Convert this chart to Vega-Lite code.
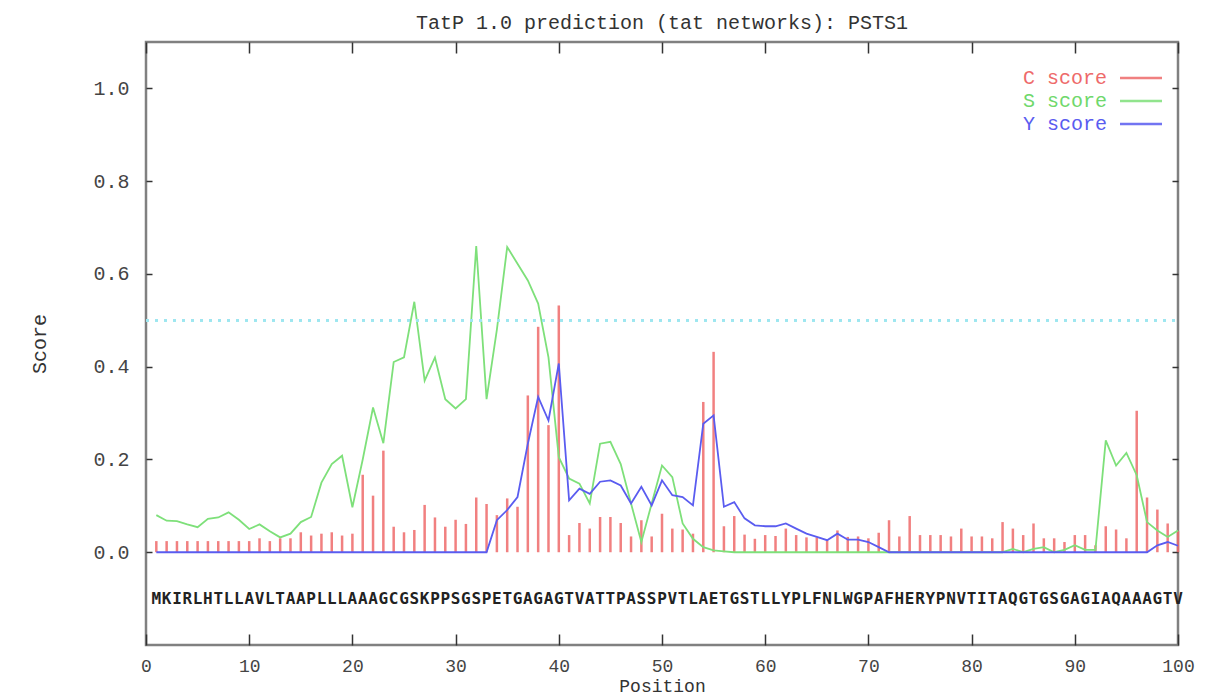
{
  "$schema": "https://vega.github.io/schema/vega-lite/v6.json",
  "width": 1032,
  "height": 603,
  "autosize": {"type": "none"},
  "padding": {"left": 146, "top": 42, "right": 35, "bottom": 55},
  "background": "white",
  "title": {"text": "TatP 1.0 prediction (tat networks): PSTS1", "font": "Liberation Mono", "fontSize": 20, "fontWeight": "normal", "color": "#333333", "offset": 8, "anchor": "middle"},
  "config": {
    "view": {"stroke": "#808080", "strokeWidth": 2.5},
    "font": "Liberation Mono"
  },
  "data": {"values": [
    {"pos":1,"aa":"M","C":0.024,"S":0.080,"Y":0},
    {"pos":2,"aa":"K","C":0.024,"S":0.068,"Y":0},
    {"pos":3,"aa":"I","C":0.024,"S":0.067,"Y":0},
    {"pos":4,"aa":"R","C":0.024,"S":0.060,"Y":0},
    {"pos":5,"aa":"L","C":0.024,"S":0.054,"Y":0},
    {"pos":6,"aa":"H","C":0.024,"S":0.072,"Y":0},
    {"pos":7,"aa":"T","C":0.024,"S":0.075,"Y":0},
    {"pos":8,"aa":"L","C":0.024,"S":0.086,"Y":0},
    {"pos":9,"aa":"L","C":0.024,"S":0.070,"Y":0},
    {"pos":10,"aa":"A","C":0.024,"S":0.050,"Y":0},
    {"pos":11,"aa":"V","C":0.030,"S":0.060,"Y":0},
    {"pos":12,"aa":"L","C":0.024,"S":0.045,"Y":0},
    {"pos":13,"aa":"T","C":0.030,"S":0.032,"Y":0},
    {"pos":14,"aa":"A","C":0.030,"S":0.040,"Y":0},
    {"pos":15,"aa":"A","C":0.043,"S":0.065,"Y":0},
    {"pos":16,"aa":"P","C":0.036,"S":0.076,"Y":0},
    {"pos":17,"aa":"L","C":0.040,"S":0.150,"Y":0},
    {"pos":18,"aa":"L","C":0.043,"S":0.190,"Y":0},
    {"pos":19,"aa":"L","C":0.036,"S":0.208,"Y":0},
    {"pos":20,"aa":"A","C":0.040,"S":0.097,"Y":0},
    {"pos":21,"aa":"A","C":0.167,"S":0.200,"Y":0},
    {"pos":22,"aa":"A","C":0.122,"S":0.312,"Y":0},
    {"pos":23,"aa":"G","C":0.219,"S":0.235,"Y":0},
    {"pos":24,"aa":"C","C":0.055,"S":0.410,"Y":0},
    {"pos":25,"aa":"G","C":0.043,"S":0.420,"Y":0},
    {"pos":26,"aa":"S","C":0.048,"S":0.540,"Y":0},
    {"pos":27,"aa":"K","C":0.102,"S":0.370,"Y":0},
    {"pos":28,"aa":"P","C":0.075,"S":0.420,"Y":0},
    {"pos":29,"aa":"P","C":0.055,"S":0.330,"Y":0},
    {"pos":30,"aa":"S","C":0.070,"S":0.310,"Y":0},
    {"pos":31,"aa":"G","C":0.061,"S":0.330,"Y":0},
    {"pos":32,"aa":"S","C":0.118,"S":0.660,"Y":0},
    {"pos":33,"aa":"P","C":0.104,"S":0.330,"Y":0},
    {"pos":34,"aa":"E","C":0.080,"S":0.480,"Y":0.069},
    {"pos":35,"aa":"T","C":0.116,"S":0.658,"Y":0.091},
    {"pos":36,"aa":"G","C":0.098,"S":0.622,"Y":0.119},
    {"pos":37,"aa":"A","C":0.338,"S":0.586,"Y":0.234},
    {"pos":38,"aa":"G","C":0.486,"S":0.536,"Y":0.335},
    {"pos":39,"aa":"A","C":0.274,"S":0.420,"Y":0.284},
    {"pos":40,"aa":"G","C":0.532,"S":0.205,"Y":0.407},
    {"pos":41,"aa":"T","C":0.037,"S":0.159,"Y":0.112},
    {"pos":42,"aa":"V","C":0.063,"S":0.148,"Y":0.137},
    {"pos":43,"aa":"A","C":0.051,"S":0.105,"Y":0.126},
    {"pos":44,"aa":"T","C":0.076,"S":0.234,"Y":0.152},
    {"pos":45,"aa":"T","C":0.076,"S":0.238,"Y":0.155},
    {"pos":46,"aa":"P","C":0.063,"S":0.190,"Y":0.144},
    {"pos":47,"aa":"A","C":0.034,"S":0.105,"Y":0.105},
    {"pos":48,"aa":"S","C":0.069,"S":0.022,"Y":0.141},
    {"pos":49,"aa":"S","C":0.034,"S":0.105,"Y":0.101},
    {"pos":50,"aa":"P","C":0.083,"S":0.187,"Y":0.155},
    {"pos":51,"aa":"V","C":0.051,"S":0.162,"Y":0.123},
    {"pos":52,"aa":"T","C":0.049,"S":0.062,"Y":0.119},
    {"pos":53,"aa":"L","C":0.040,"S":0.029,"Y":0.101},
    {"pos":54,"aa":"A","C":0.324,"S":0.011,"Y":0.277},
    {"pos":55,"aa":"E","C":0.432,"S":0.004,"Y":0.295},
    {"pos":56,"aa":"T","C":0.056,"S":0.002,"Y":0.098},
    {"pos":57,"aa":"G","C":0.078,"S":0,"Y":0.108},
    {"pos":58,"aa":"S","C":0.038,"S":0,"Y":0.073},
    {"pos":59,"aa":"T","C":0.029,"S":0,"Y":0.058},
    {"pos":60,"aa":"L","C":0.037,"S":0,"Y":0.056},
    {"pos":61,"aa":"L","C":0.035,"S":0,"Y":0.056},
    {"pos":62,"aa":"Y","C":0.051,"S":0,"Y":0.062},
    {"pos":63,"aa":"P","C":0.037,"S":0,"Y":0.051},
    {"pos":64,"aa":"L","C":0.032,"S":0,"Y":0.040},
    {"pos":65,"aa":"F","C":0.032,"S":0,"Y":0.033},
    {"pos":66,"aa":"N","C":0.026,"S":0,"Y":0.026},
    {"pos":67,"aa":"L","C":0.047,"S":0,"Y":0.040},
    {"pos":68,"aa":"W","C":0.033,"S":0,"Y":0.027},
    {"pos":69,"aa":"G","C":0.034,"S":0,"Y":0.027},
    {"pos":70,"aa":"P","C":0.030,"S":0,"Y":0.022},
    {"pos":71,"aa":"A","C":0.042,"S":0,"Y":0.011},
    {"pos":72,"aa":"F","C":0.069,"S":0,"Y":0},
    {"pos":73,"aa":"H","C":0.034,"S":0,"Y":0},
    {"pos":74,"aa":"E","C":0.078,"S":0,"Y":0},
    {"pos":75,"aa":"R","C":0.037,"S":0,"Y":0},
    {"pos":76,"aa":"Y","C":0.037,"S":0,"Y":0},
    {"pos":77,"aa":"P","C":0.037,"S":0,"Y":0},
    {"pos":78,"aa":"N","C":0.034,"S":0,"Y":0},
    {"pos":79,"aa":"V","C":0.051,"S":0,"Y":0},
    {"pos":80,"aa":"T","C":0.034,"S":0,"Y":0},
    {"pos":81,"aa":"I","C":0.034,"S":0,"Y":0},
    {"pos":82,"aa":"T","C":0.030,"S":0,"Y":0},
    {"pos":83,"aa":"A","C":0.065,"S":0,"Y":0},
    {"pos":84,"aa":"Q","C":0.051,"S":0.007,"Y":0},
    {"pos":85,"aa":"G","C":0.037,"S":0,"Y":0},
    {"pos":86,"aa":"T","C":0.062,"S":0.007,"Y":0},
    {"pos":87,"aa":"G","C":0.030,"S":0.011,"Y":0},
    {"pos":88,"aa":"S","C":0.030,"S":0,"Y":0},
    {"pos":89,"aa":"G","C":0.022,"S":0.005,"Y":0},
    {"pos":90,"aa":"A","C":0.037,"S":0.015,"Y":0},
    {"pos":91,"aa":"G","C":0.037,"S":0.005,"Y":0},
    {"pos":92,"aa":"I","C":0.015,"S":0.005,"Y":0},
    {"pos":93,"aa":"A","C":0.056,"S":0.241,"Y":0},
    {"pos":94,"aa":"Q","C":0.049,"S":0.187,"Y":0},
    {"pos":95,"aa":"A","C":0.030,"S":0.214,"Y":0},
    {"pos":96,"aa":"A","C":0.305,"S":0.166,"Y":0},
    {"pos":97,"aa":"A","C":0.118,"S":0.065,"Y":0},
    {"pos":98,"aa":"G","C":0.092,"S":0.047,"Y":0.015},
    {"pos":99,"aa":"T","C":0.062,"S":0.033,"Y":0.022},
    {"pos":100,"aa":"V","C":0.046,"S":0.047,"Y":0.014}
  ]},
  "resolve": {"axis": {"x": "independent", "y": "independent"}},
  "layer": [
    {
      "transform": [{"fold": ["C", "S", "Y"], "as": ["k", "v"]}, {"filter": "datum.k == 'C'"}],
      "mark": {"type": "rule", "strokeWidth": 2.5, "opacity": 0.85},
      "encoding": {
        "x": {"field": "pos", "type": "quantitative", "scale": {"domain": [0, 100], "nice": false, "zero": false},
          "axis": {"orient": "bottom", "values": [0,10,20,30,40,50,60,70,80,90,100], "format": "d", "tickSize": -11, "tickColor": "#333333", "tickWidth": 1.5, "domain": false, "grid": false,
            "labelFont": "Liberation Mono", "labelFontSize": 18, "labelColor": "#444444", "labelPadding": 23, "labelFlush": false,
            "title": "Position", "titleFont": "Liberation Mono", "titleFontSize": 18, "titleFontWeight": "normal", "titleColor": "#333333", "titlePadding": 2}},
        "y": {"field": "v", "type": "quantitative", "scale": {"domain": [-0.2, 1.1], "nice": false, "zero": false},
          "axis": {"orient": "left", "values": [0, 0.2, 0.4, 0.6, 0.8, 1.0], "format": ".1f", "tickSize": -6, "tickColor": "#333333", "tickWidth": 1.5, "domain": false, "grid": false,
            "labelFont": "Liberation Mono", "labelFontSize": 20, "labelColor": "#444444", "labelPadding": 23,
            "title": "Score", "titleFont": "Liberation Mono", "titleFontSize": 20, "titleFontWeight": "normal", "titleColor": "#333333", "titlePadding": 43}},
        "y2": {"datum": 0},
        "color": {"field": "k", "type": "nominal", "scale": {"domain": ["C", "S", "Y"], "range": ["#ee6a6a", "#7ee07a", "#5a5cf0"]},
          "legend": {"orient": "none", "legendX": 985, "legendY": 26, "padding": 0, "rowPadding": 3, "title": null,
            "labelFont": "Liberation Mono", "labelFontSize": 20, "labelAlign": "right", "labelOffset": -44,
            "labelExpr": "datum.label + ' score'",
            "labelColor": {"expr": "datum.value == 'C' ? '#ee6a6a' : datum.value == 'S' ? '#6fd86b' : '#5a5cf0'"},
            "symbolType": "M-3,0H3", "symbolSize": 196, "symbolStrokeWidth": 2.5}}
      }
    },
    {
      "transform": [{"fold": ["C", "S", "Y"], "as": ["k", "v"]}, {"filter": "datum.k != 'C'"}],
      "mark": {"type": "line", "strokeWidth": 1.8},
      "encoding": {
        "x": {"field": "pos", "type": "quantitative", "axis": null},
        "y": {"field": "v", "type": "quantitative", "axis": null},
        "color": {"field": "k", "type": "nominal"}
      }
    },
    {
      "mark": {"type": "rule", "strokeDash": [3, 6], "color": "#9ee6f0", "strokeWidth": 2},
      "encoding": {
        "x": {"datum": 0, "type": "quantitative",
          "axis": {"orient": "top", "values": [0,10,20,30,40,50,60,70,80,90,100], "labels": false, "tickSize": -11, "tickColor": "#333333", "tickWidth": 1.5, "domain": false, "grid": false, "title": null}},
        "x2": {"datum": 100},
        "y": {"datum": 0.5, "type": "quantitative",
          "axis": {"orient": "right", "values": [0, 0.2, 0.4, 0.6, 0.8, 1.0], "labels": false, "tickSize": -6, "tickColor": "#333333", "tickWidth": 1.5, "domain": false, "grid": false, "title": null}}
      }
    },
    {
      "mark": {"type": "text", "font": "DejaVu Sans Mono", "fontSize": 16, "fontWeight": "bold", "color": "#222222", "align": "center", "baseline": "middle"},
      "encoding": {
        "x": {"field": "pos", "type": "quantitative", "axis": null},
        "y": {"datum": -0.1, "type": "quantitative", "axis": null},
        "text": {"field": "aa"}
      }
    }
  ]
}
